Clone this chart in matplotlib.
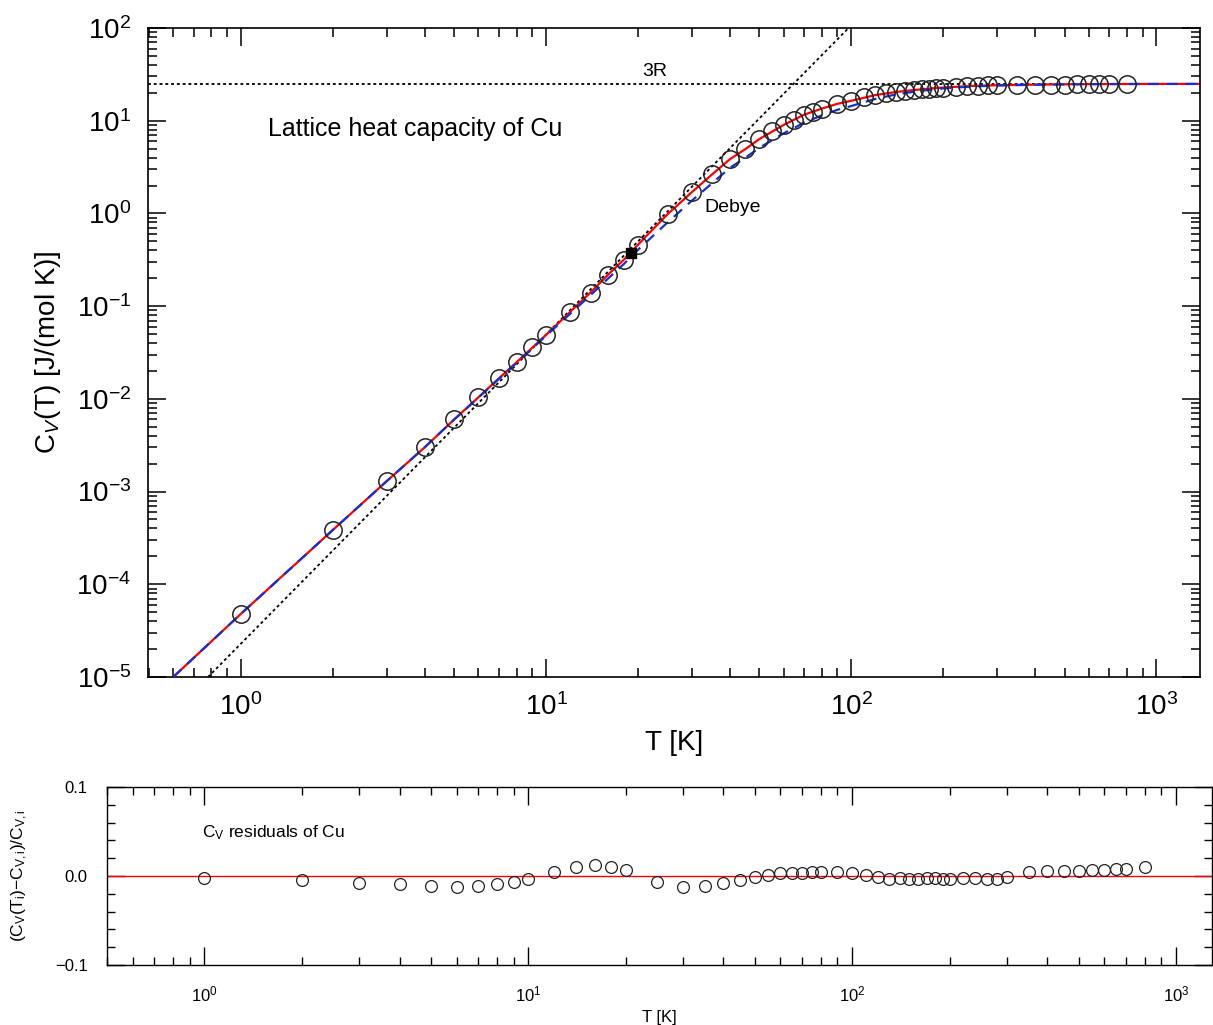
import numpy as np
import matplotlib
matplotlib.use('Agg')
import matplotlib.pyplot as plt
from matplotlib.ticker import LogLocator, MultipleLocator, FuncFormatter

plt.rcParams['font.family'] = ['Liberation Sans', 'DejaVu Sans']
plt.rcParams['mathtext.fontset'] = 'custom'
plt.rcParams['mathtext.rm'] = 'Liberation Sans'
plt.rcParams['mathtext.it'] = 'Liberation Sans:italic'
plt.rcParams['mathtext.sf'] = 'Liberation Sans'

# datos medidos (T en K, Cv en J/(mol K))
T_data = [1, 2, 3, 4, 5, 6, 7, 8, 9, 10, 12, 14, 16, 18, 20, 25, 30, 35, 40, 45,
          50, 55, 60, 65, 70, 75, 80, 90, 100, 110, 120, 130, 140, 150, 160, 170,
          180, 190, 200, 220, 240, 260, 280, 300, 350, 400, 450, 500, 550, 600,
          650, 700, 800]
Cv_data = [4.8e-5, 3.87e-4, 1.30e-3, 3.03e-3, 6.07e-3, 1.05e-2, 1.68e-2, 2.5e-2,
           3.6e-2, 4.9e-2, 8.65e-2, 0.139, 0.217, 0.315, 0.457, 0.99, 1.71, 2.67,
           3.87, 4.97, 6.37, 7.76, 9.0, 10.2, 11.5, 12.5, 13.4, 15.1, 16.3, 17.8,
           18.9, 19.7, 20.4, 20.9, 21.4, 21.8, 22.2, 22.5, 22.8, 23.2, 23.5, 23.8,
           24.0, 24.1, 24.3, 24.4, 24.5, 24.55, 24.6, 24.65, 24.7, 24.7, 24.7]
# residuos relativos del ajuste
resid = [-0.002, -0.005, -0.008, -0.009, -0.0115, -0.012, -0.011, -0.009, -0.007,
         -0.003, 0.004, 0.010, 0.012, 0.010, 0.007, -0.007, -0.012, -0.011, -0.008,
         -0.004, -0.001, 0.001, 0.003, 0.003, 0.003, 0.005, 0.005, 0.004, 0.003,
         0.001, -0.001, -0.003, -0.002, -0.003, -0.003, -0.002, -0.002, -0.003,
         -0.003, -0.002, -0.002, -0.003, -0.003, -0.001, 0.004, 0.006, 0.006,
         0.006, 0.007, 0.007, 0.008, 0.008, 0.010]

# curva ajustada (roja) y modelo de Debye (azul)
T_curve = [0.6, 1, 2, 3, 4, 5, 6, 7, 8, 10, 12, 14, 16, 18, 20, 25, 30, 35, 40, 45,
           50, 60, 70, 80, 90, 100, 120, 140, 160, 180, 200, 250, 300, 400, 500,
           600, 800, 1000, 1400]
Cv_fit = [1.0e-5, 4.8e-5, 3.85e-4, 1.29e-3, 3.0e-3, 6.0e-3, 1.04e-2, 1.66e-2,
          2.48e-2, 4.9e-2, 8.7e-2, 0.141, 0.220, 0.318, 0.46, 0.98, 1.69, 2.64,
          3.84, 4.95, 6.35, 9.0, 11.6, 13.5, 15.2, 16.4, 18.9, 20.4, 21.4, 22.2,
          22.8, 23.7, 24.1, 24.5, 24.7, 24.8, 24.88, 24.91, 24.93]
Cv_debye = [1.0e-5, 4.8e-5, 3.85e-4, 1.29e-3, 3.0e-3, 6.0e-3, 1.03e-2, 1.64e-2,
            2.44e-2, 4.8e-2, 8.3e-2, 0.132, 0.2, 0.286, 0.405, 0.80, 1.37, 2.12,
            3.1, 4.0, 5.1, 7.3, 9.5, 11.4, 13.1, 14.4, 17.2, 19.2, 20.5, 21.5,
            22.3, 23.4, 24.0, 24.4, 24.65, 24.78, 24.87, 24.9, 24.93]

# asintota de baja temperatura (punteada) y limite 3R
T_low = [0.78, 98]
Cv_low = [1e-5, 100]
R3 = 24.94
T_mark, Cv_mark = 19, 0.375

fig = plt.figure(figsize=(12.13, 10.25), dpi=100)

# ---- panel principal ----
ax = fig.add_axes([0.122, 0.3395, 0.867, 0.6332])
ax.plot(T_curve, Cv_fit, color='red', lw=1.6, zorder=2)
ax.plot(T_curve, Cv_debye, color='#1030e0', lw=1.6, dashes=(5, 3.5), zorder=3)
ax.plot(T_low, Cv_low, color='black', lw=1.3, dashes=(1.6, 1.6), zorder=1)
ax.axhline(R3, color='black', lw=1.3, dashes=(1.6, 1.6), zorder=1)
ax.plot(T_data, Cv_data, 'o', ms=12.5, mfc='none', mec='#222222', mew=1.1, zorder=4)
ax.plot(T_mark, Cv_mark, 's', ms=7, color='black', zorder=5)

ax.set_xscale('log')
ax.set_yscale('log')
ax.set_xlim(0.496, 1385)
ax.set_ylim(1e-5, 1e2)
ax.yaxis.set_major_locator(LogLocator(base=10, numticks=20))
ax.yaxis.set_minor_locator(LogLocator(base=10, subs=np.arange(2, 10), numticks=20))
ax.tick_params(which='both', direction='in', top=True, right=True, width=1.1)
ax.tick_params(which='major', length=13, labelsize=20, pad=12)
ax.tick_params(which='minor', length=6.5)
for s in ax.spines.values():
    s.set_linewidth(1.2)
ax.set_xlabel('T [K]', fontsize=20, labelpad=6)
ax.set_ylabel(r'C$_{\mathit{V}}$(T) [J/(mol K)]', fontsize=20, labelpad=10)
ax.text(0.114, 0.844, 'Lattice heat capacity of Cu', transform=ax.transAxes,
        fontsize=18, va='center')
ax.text(22.7, 27.5, '3R', fontsize=14, ha='center', va='bottom')
ax.text(33, 1.17, 'Debye', fontsize=14, ha='left', va='center')

# ---- panel de residuos ----
ax2 = fig.add_axes([0.0882, 0.0585, 0.911, 0.1737])
ax2.axhline(0, color='red', lw=1.0)
ax2.plot(T_data, resid, 'o', ms=8.5, mfc='none', mec='#222222', mew=0.9)
ax2.set_xscale('log')
ax2.set_xlim(0.5, 1290)
ax2.set_ylim(-0.1, 0.1)
ax2.yaxis.set_major_locator(MultipleLocator(0.1))
ax2.yaxis.set_minor_locator(MultipleLocator(0.02))
ax2.yaxis.set_major_formatter(FuncFormatter(lambda v, p: ('%.1f' % v).replace('-', '\u2212')))
ax2.tick_params(which='both', direction='in', top=True, right=True, width=1.0)
ax2.tick_params(which='major', length=13, labelsize=12, pad=14)
ax2.tick_params(which='minor', length=6)
for s in ax2.spines.values():
    s.set_linewidth(1.0)
ax2.set_xlabel('T [K]', fontsize=12, labelpad=4)
ax2.set_ylabel(r'(C$_\mathrm{V}$(T$_\mathrm{i}$)$-$C$_\mathrm{V,i}$)/C$_\mathrm{V,i}$',
               fontsize=12.5, labelpad=18)
ax2.text(0.086, 0.745, r'C$_\mathrm{V}$ residuals of Cu', transform=ax2.transAxes,
         fontsize=12.5, va='center')

fig.savefig('out.png', dpi=100)
